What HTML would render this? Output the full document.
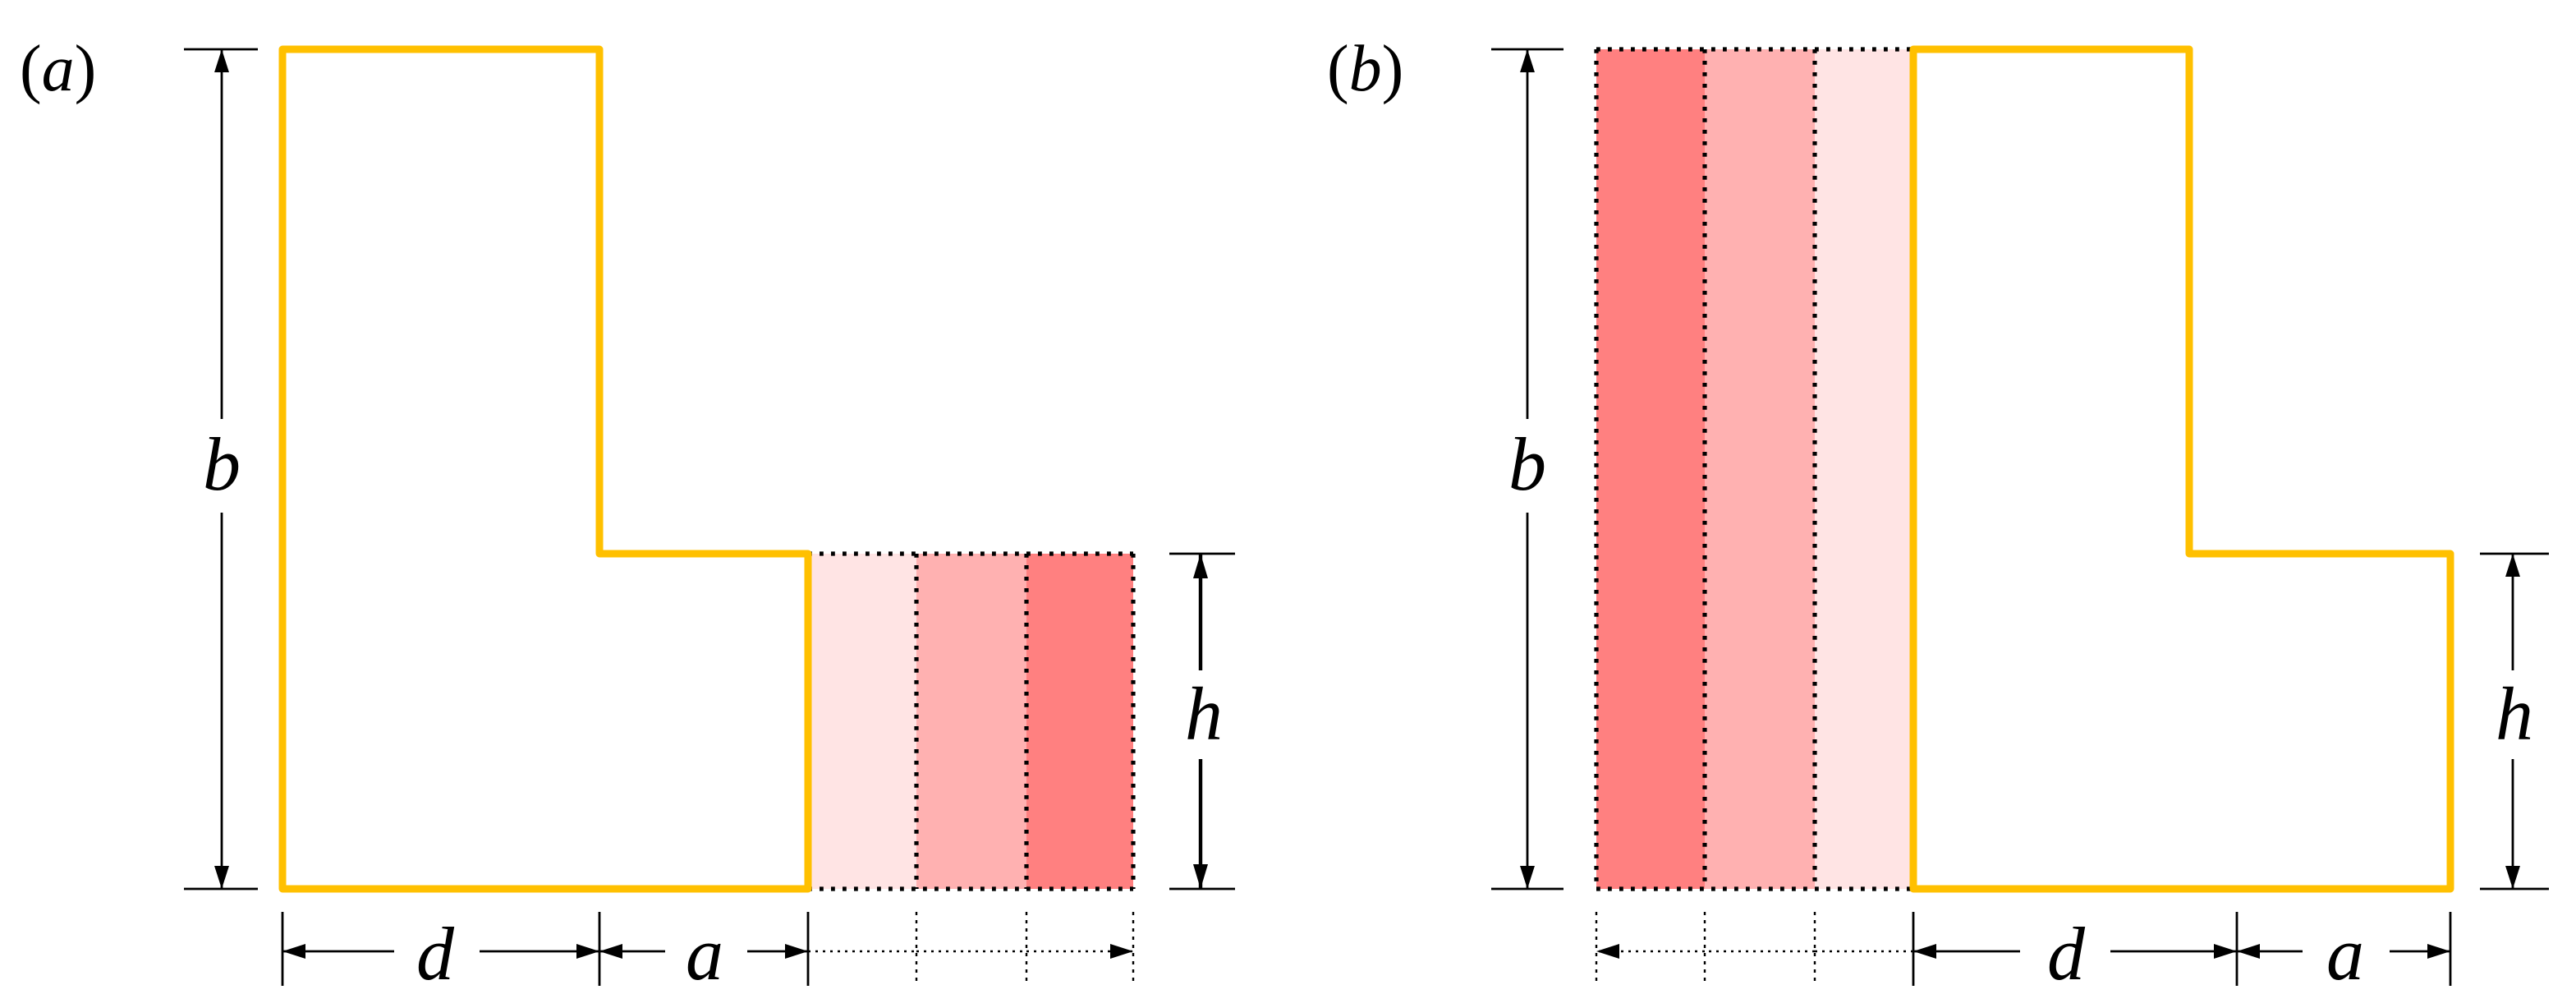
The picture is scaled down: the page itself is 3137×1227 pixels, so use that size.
<!DOCTYPE html>
<html><head><meta charset="utf-8"><style>
html,body{margin:0;padding:0;background:#fff;}
svg{display:block;}
text{font-family:"Liberation Serif","DejaVu Serif",serif;font-style:italic;fill:#000;}
</style></head><body>
<svg width="3137" height="1227" viewBox="0 0 1568.5 613.5" xmlns="http://www.w3.org/2000/svg">
<defs>
<marker id="ah" viewBox="0 0 10 10" refX="10" refY="5" markerWidth="14" markerHeight="14" markerUnits="userSpaceOnUse" orient="auto-start-reverse"><path d="M0,1.8 L10,5 L0,8.2 z" fill="#000"/></marker>
<marker id="ahb" viewBox="0 0 10 10" refX="10" refY="5" markerWidth="15" markerHeight="15" markerUnits="userSpaceOnUse" orient="auto-start-reverse"><path d="M0,2 L10,5 L0,8 z" fill="#000"/></marker>
</defs>
<g fill="none" stroke="#000">
<rect x="492" y="337" width="66" height="204" fill="#FFE4E4" stroke="none"/>
<rect x="558" y="337" width="67" height="204" fill="#FFB1B1" stroke="none"/>
<rect x="625" y="337" width="65" height="204" fill="#FF8080" stroke="none"/>
<g stroke-width="2.6" stroke-dasharray="2.4 4.6">
<path d="M492 337H690M492 541H690M558 337V541M625 337V541M690 337V541"/>
</g>
<path d="M172 30H365V337H492V541H172Z" stroke="#FFC000" stroke-width="4.5" stroke-linejoin="round"/>
<path d="M112 30H157M112 541H157" stroke-width="1.4"/>
<path d="M135 30V255" stroke-width="1.4" marker-start="url(#ah)"/>
<path d="M135 312V541" stroke-width="1.4" marker-end="url(#ah)"/>
<path d="M712 337H752M712 541H752" stroke-width="1.4"/>
<path d="M731 337V408" stroke-width="2.2" marker-start="url(#ahb)"/>
<path d="M731 462V541" stroke-width="2.2" marker-end="url(#ahb)"/>
<path d="M172 555V600M365 555V600M492 555V600" stroke-width="1.4"/>
<path d="M558 555V600M625 555V600M690 555V600" stroke-width="1.2" stroke-dasharray="2 3"/>
<path d="M240 579H172" stroke-width="1.4" marker-end="url(#ah)"/>
<path d="M292 579H365" stroke-width="1.4" marker-end="url(#ah)"/>
<path d="M405 579H365" stroke-width="1.4" marker-end="url(#ah)"/>
<path d="M455 579H492" stroke-width="1.4" marker-end="url(#ah)"/>
<path d="M492 579H558M558 579H625M625 579H690" stroke-width="1.3" stroke-dasharray="1.5 3" marker-end="url(#ah)"/>
<rect x="972" y="30" width="66" height="511" fill="#FF8080" stroke="none"/>
<rect x="1038" y="30" width="67" height="511" fill="#FFB1B1" stroke="none"/>
<rect x="1105" y="30" width="60" height="511" fill="#FFE4E4" stroke="none"/>
<g stroke-width="2.6" stroke-dasharray="2.4 4.6">
<path d="M972 30H1165M972 541H1165M972 30V541M1038 30V541M1105 30V541"/>
</g>
<path d="M1165 30H1333V337H1492V541H1165Z" stroke="#FFC000" stroke-width="4.5" stroke-linejoin="round"/>
<path d="M908 30H952M908 541H952" stroke-width="1.4"/>
<path d="M930 30V255" stroke-width="1.4" marker-start="url(#ah)"/>
<path d="M930 312V541" stroke-width="1.4" marker-end="url(#ah)"/>
<path d="M1510 337H1552M1510 541H1552" stroke-width="1.4"/>
<path d="M1530 337V408" stroke-width="1.4" marker-start="url(#ah)"/>
<path d="M1530 462V541" stroke-width="1.4" marker-end="url(#ah)"/>
<path d="M1165 555V600M1362 555V600M1492 555V600" stroke-width="1.4"/>
<path d="M972 555V600M1038 555V600M1105 555V600" stroke-width="1.2" stroke-dasharray="2 3"/>
<path d="M1230 579H1165" stroke-width="1.4" marker-end="url(#ah)"/>
<path d="M1285 579H1362" stroke-width="1.4" marker-end="url(#ah)"/>
<path d="M1402 579H1362" stroke-width="1.4" marker-end="url(#ah)"/>
<path d="M1455 579H1492" stroke-width="1.4" marker-end="url(#ah)"/>
<path d="M1165 579H1105M1105 579H1038M1038 579H972" stroke-width="1.3" stroke-dasharray="1.5 3" marker-end="url(#ah)"/>
</g>
<g font-size="46" text-anchor="middle">
<text x="135" y="298">b</text>
<text x="265" y="596">d</text>
<text x="429" y="596">a</text>
<text x="733" y="450">h</text>
<text x="930" y="298">b</text>
<text x="1258" y="596">d</text>
<text x="1428" y="596">a</text>
<text x="1531" y="450">h</text>
</g>
<g font-size="40">
<text x="12" y="55"><tspan font-style="normal">(</tspan>a<tspan font-style="normal">)</tspan></text>
<text x="808" y="55"><tspan font-style="normal">(</tspan>b<tspan font-style="normal">)</tspan></text>
</g>
</svg>
</body></html>
